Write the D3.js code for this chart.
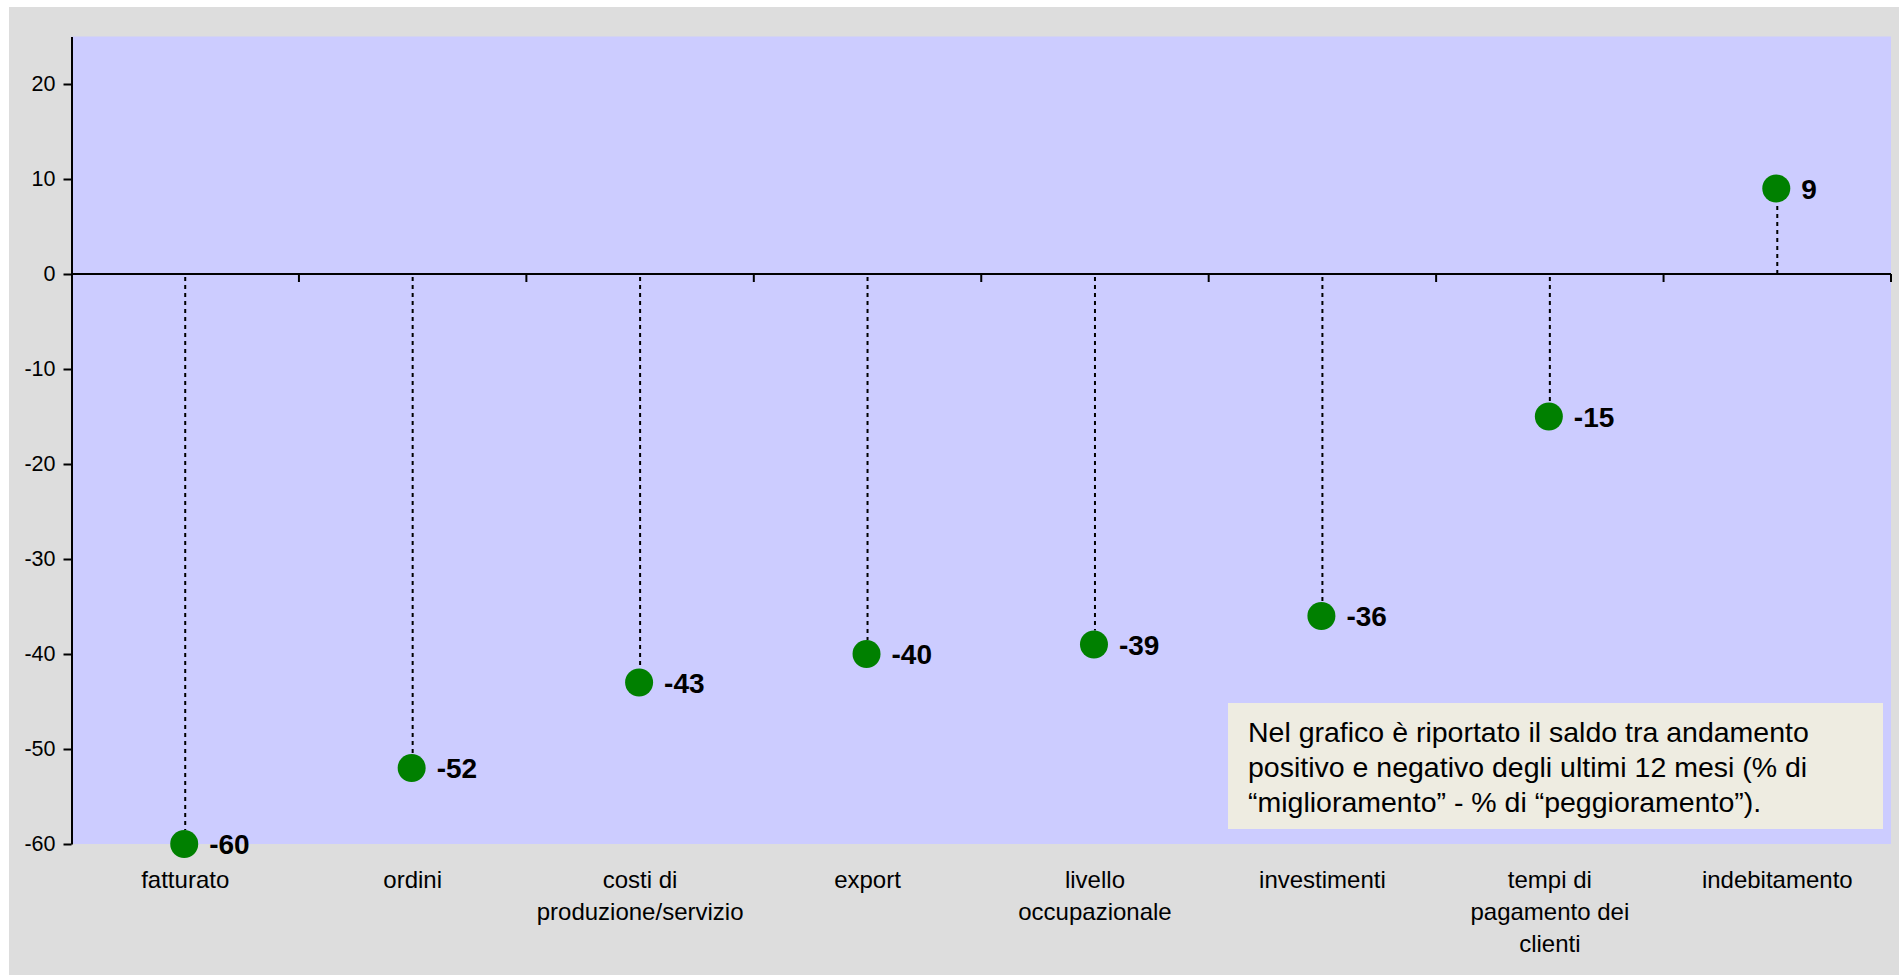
<!DOCTYPE html>
<html>
<head>
<meta charset="utf-8">
<script src="https://cdn.jsdelivr.net/npm/d3@7"></script>
<style>
  body { margin: 0; background: #fff; }
  svg { display: block; }
  text { font-family: "Liberation Sans", Arial, sans-serif; fill: #000; }
</style>
</head>
<body>
<svg width="1899" height="975"></svg>
<script>
const categories = [
    ["fatturato"],
    ["ordini"],
    ["costi di", "produzione/servizio"],
    ["export"],
    ["livello", "occupazionale"],
    ["investimenti"],
    ["tempi di", "pagamento dei", "clienti"],
    ["indebitamento"]
]
const values = [-60, -52, -43, -40, -39, -36, -15, 9]
const yTicks = [-60, -50, -40, -30, -20, -10, 0, 10, 20]
const noteLines = [
    "Nel grafico è riportato il saldo tra andamento",
    "positivo e negativo degli ultimi 12 mesi (% di",
    "“miglioramento” - % di “peggioramento”)."
]

const data = categories.map((c, i) => ({key: c.join(" "), lines: c, value: values[i]}))

const svg = d3.select("svg"),
    plot = {left: 71.5, right: 1891, top: 36.5, bottom: 844};

// background
svg.append("rect")
    .attr("x", 9).attr("y", 7)
    .attr("width", 1899 - 9).attr("height", 975 - 7)
    .attr("fill", "#dddddd");

svg.append("rect")
    .attr("x", plot.left).attr("y", plot.top)
    .attr("width", plot.right - plot.left).attr("height", plot.bottom - plot.top)
    .attr("fill", "#ccccff");

const x = d3.scaleBand()
    .domain(data.map(d => d.key))
    .range([plot.left, plot.right]);

const y = d3.scaleLinear()
    .domain([-60, 25])
    .range([plot.bottom, plot.top]);

// note box
const note = svg.append("g");
note.append("rect")
    .attr("x", 1228).attr("y", 703)
    .attr("width", 655).attr("height", 126)
    .attr("fill", "#eeece1");
note.append("text")
    .attr("font-size", 28.5)
    .selectAll("tspan")
    .data(noteLines)
    .join("tspan")
    .attr("x", 1248)
    .attr("y", (d, i) => 742 + i * 35)
    .text(d => d);

// y axis
svg.append("g")
    .attr("transform", `translate(${plot.left},0)`)
    .call(d3.axisLeft(y).tickValues(yTicks).tickFormat(d => String(d))
        .tickSize(8).tickSizeOuter(0).tickPadding(8))
    .call(g => g.select(".domain").attr("stroke-width", 2))
    .call(g => g.selectAll(".tick line").attr("stroke-width", 2))
    .call(g => g.selectAll(".tick text")
        .attr("font-size", 21.5)
        .attr("font-family", "Liberation Sans, Arial, sans-serif"));

// zero line with category boundary ticks
svg.append("line")
    .attr("x1", plot.left).attr("x2", plot.right)
    .attr("y1", y(0)).attr("y2", y(0))
    .attr("stroke", "#000").attr("stroke-width", 2);

svg.append("g")
    .selectAll("line")
    .data(data)
    .join("line")
    .attr("x1", d => x(d.key) + x.bandwidth())
    .attr("x2", d => x(d.key) + x.bandwidth())
    .attr("y1", y(0))
    .attr("y2", y(0) + 8)
    .attr("stroke", "#000").attr("stroke-width", 2);

// category labels
svg.append("g")
    .selectAll("text")
    .data(data)
    .join("text")
    .attr("text-anchor", "middle")
    .attr("font-size", 24)
    .each(function(d) {
        d3.select(this).selectAll("tspan")
            .data(d.lines)
            .join("tspan")
            .attr("x", x(d.key) + x.bandwidth() / 2)
            .attr("y", (t, i) => 888 + i * 32)
            .text(t => t);
    });

// stems
const r = 14;
svg.append("g")
    .selectAll("line")
    .data(data)
    .join("line")
    .attr("x1", d => x(d.key) + x.bandwidth() / 2)
    .attr("x2", d => x(d.key) + x.bandwidth() / 2)
    .attr("y1", d => d.value < 0 ? y(0) + 3 : y(0))
    .attr("y2", d => d.value < 0 ? y(d.value) - r : y(d.value) + r)
    .attr("stroke", "#000")
    .attr("stroke-width", 2)
    .attr("stroke-dasharray", "4,4");

// points
svg.append("g")
    .selectAll("circle")
    .data(data)
    .join("circle")
    .attr("cx", d => x(d.key) + x.bandwidth() / 2 - 1)
    .attr("cy", d => y(d.value))
    .attr("r", r)
    .attr("fill", "#008000");

// value labels
svg.append("g")
    .selectAll("text")
    .data(data)
    .join("text")
    .attr("x", d => x(d.key) + x.bandwidth() / 2 + 24)
    .attr("y", d => y(d.value))
    .attr("dy", "0.36em")
    .attr("font-size", 28)
    .attr("font-weight", "bold")
    .text(d => d.value);
</script>
</body>
</html>
